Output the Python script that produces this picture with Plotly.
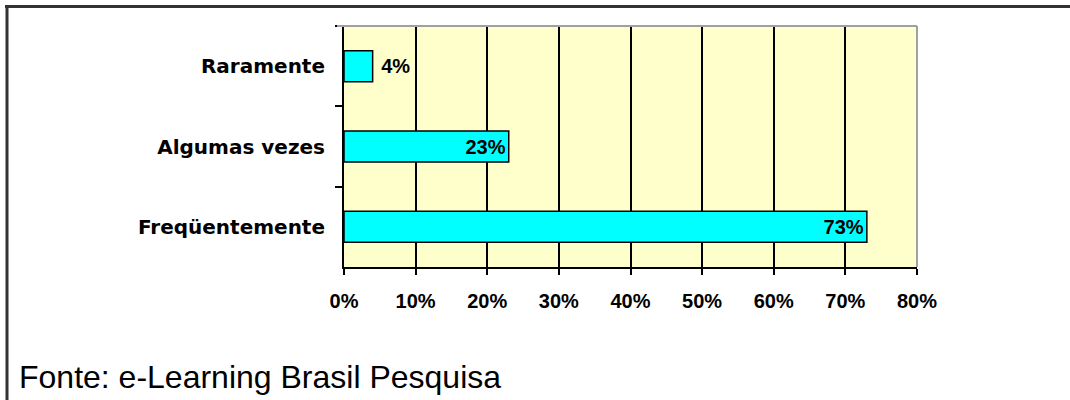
import plotly.graph_objects as go

categories = ["Raramente", "Algumas vezes", "Freqüentemente"]
values = [4, 23, 73]
label_positions = ["outside", "inside", "inside"]
label_templates = ["\u00a0%{x}%", "%{x}%", "%{x}%"]
x_ticks = [0, 10, 20, 30, 40, 50, 60, 70, 80]
x_ticktext = [f"{v}%" for v in x_ticks]
source_text = "Fonte: e-Learning Brasil Pesquisa"

W, H = 1070, 400
L, R, T, B = 344, 917, 26, 267  # plot area in pixels


def px(x):
    return (x - L) / (R - L)


def py(y):
    return (B - y) / (B - T)


num_font = dict(family="Liberation Sans", size=20, color="black", weight="bold")
cat_font = dict(family="DejaVu Sans", size=20, color="black", weight="bold")

fig = go.Figure(
    go.Bar(
        y=categories,
        x=values,
        orientation="h",
        marker=dict(color="#00FFFF", line=dict(color="black", width=1.5)),
        texttemplate=label_templates,
        textposition=label_positions,
        insidetextanchor="end",
        textfont=num_font,
        insidetextfont=num_font,
        outsidetextfont=num_font,
        cliponaxis=False,
        hoverinfo="skip",
    )
)

fig.update_layout(
    width=W,
    height=H,
    margin=dict(l=L, r=W - R, t=T, b=H - B, pad=0),
    paper_bgcolor="white",
    plot_bgcolor="#FFFFCC",
    bargap=0.615,
    showlegend=False,
    xaxis=dict(
        range=[0, 80],
        tickvals=x_ticks,
        ticktext=x_ticktext,
        showgrid=True,
        gridcolor="black",
        gridwidth=2,
        zeroline=False,
        showline=True,
        linecolor="black",
        linewidth=2,
        ticks="outside",
        ticklen=6,
        tickwidth=2,
        tickcolor="black",
        tickfont=num_font,
        ticklabelstandoff=9,
        fixedrange=True,
    ),
    yaxis=dict(
        type="category",
        autorange="reversed",
        tickson="boundaries",
        showgrid=False,
        showline=True,
        linecolor="black",
        linewidth=2,
        ticks="outside",
        ticklen=7,
        tickwidth=2,
        tickcolor="black",
        tickfont=cat_font,
        ticklabelstandoff=13,
        fixedrange=True,
    ),
    shapes=[
        # plot frame top and right (gray)
        dict(type="line", xref="paper", yref="paper", x0=px(337), x1=1, y0=1, y1=1,
             line=dict(color="#A0A0A0", width=2), layer="above"),
        dict(type="line", xref="paper", yref="paper", x0=1, x1=1, y0=0, y1=1,
             line=dict(color="#A0A0A0", width=2), layer="above"),
        # outer page frame
        dict(type="line", xref="paper", yref="paper", x0=px(5), x1=px(1070), y0=py(6.5), y1=py(6.5),
             line=dict(color="#333333", width=3)),
        dict(type="line", xref="paper", yref="paper", x0=px(7), x1=px(7), y0=py(5), y1=py(400),
             line=dict(color="#333333", width=3)),
    ],
    annotations=[
        dict(text=source_text, xref="paper", yref="paper", x=px(17), y=py(377),
             xanchor="left", yanchor="middle", showarrow=False,
             font=dict(family="Liberation Sans", size=32, color="black")),
    ],
)

fig.write_html(
    "out.html",
    config={"displayModeBar": False, "staticPlot": True},
    post_script="document.body.style.margin='0';",
)
